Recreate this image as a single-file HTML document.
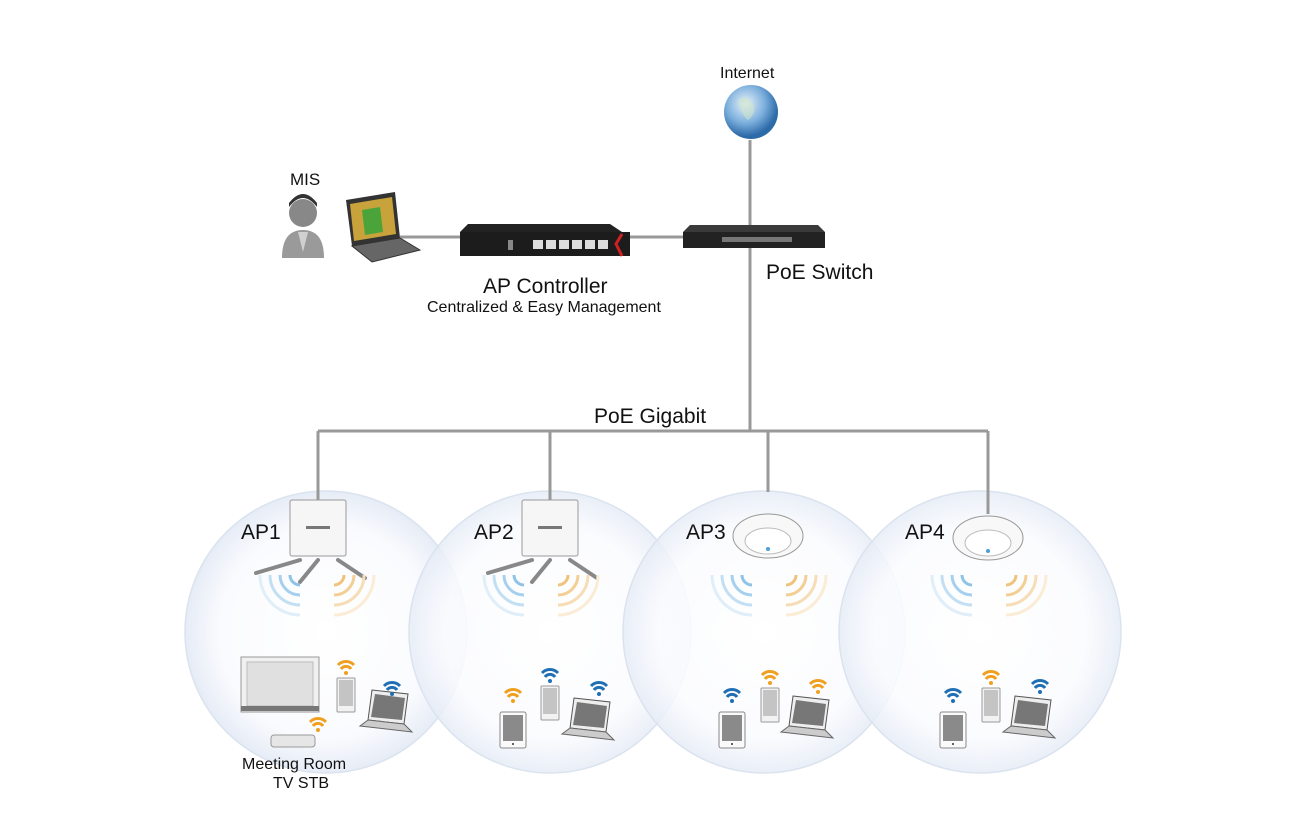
<!DOCTYPE html>
<html><head><meta charset="utf-8"><style>
body{margin:0;background:#fff;width:1306px;height:822px;overflow:hidden}
svg text{font-family:"Liberation Sans",sans-serif;fill:#111}
</style></head><body>
<svg width="1306" height="822" viewBox="0 0 1306 822" xmlns="http://www.w3.org/2000/svg">
<defs>
<radialGradient id="cg" cx="50%" cy="50%" r="50%">
<stop offset="0" stop-color="#ffffff"/><stop offset="0.75" stop-color="#fafbfe"/><stop offset="1" stop-color="#e6ecf6"/>
</radialGradient>
<radialGradient id="gl" cx="40%" cy="35%" r="60%">
<stop offset="0" stop-color="#e8f2fb"/><stop offset="0.6" stop-color="#7aaedc"/><stop offset="1" stop-color="#2d6aa8"/>
</radialGradient>
<g id="waves">
<g fill="none" stroke-width="3">
<path d="M-10 0 A10 10 0 0 0 0 10" stroke="#8fc3e8"/>
<path d="M-20 0 A20 20 0 0 0 0 20" stroke="#a6d0ee"/>
<path d="M-30 0 A30 30 0 0 0 0 30" stroke="#c3dff3"/>
<path d="M-40 0 A40 40 0 0 0 0 40" stroke="#e0eef9"/>
<path d="M44 0 A10 10 0 0 1 34 10" stroke="#f1c27a"/>
<path d="M54 0 A20 20 0 0 1 34 20" stroke="#f4cf95"/>
<path d="M64 0 A30 30 0 0 1 34 30" stroke="#f7ddb5"/>
<path d="M74 0 A40 40 0 0 1 34 40" stroke="#fbecd6"/>
</g></g>
<g id="wfO"><path d="M-8 0 A11 11 0 0 1 8 0" stroke="#f0a020" stroke-width="3" fill="none"/><path d="M-5 4 A6 6 0 0 1 5 4" stroke="#f0a020" stroke-width="3" fill="none"/><circle cx="0" cy="8" r="2" fill="#f0a020"/></g>
<g id="wfB"><path d="M-8 0 A11 11 0 0 1 8 0" stroke="#1f6fb5" stroke-width="3" fill="none"/><path d="M-5 4 A6 6 0 0 1 5 4" stroke="#1f6fb5" stroke-width="3" fill="none"/><circle cx="0" cy="8" r="2" fill="#1f6fb5"/></g>
<g id="tab"><rect x="0" y="0" width="26" height="36" rx="2" fill="#fafafa" stroke="#888"/><rect x="3" y="3" width="20" height="26" fill="#8a8a8a"/><circle cx="13" cy="32" r="1" fill="#333"/></g>
<g id="phone"><rect x="0" y="0" width="18" height="34" rx="1" fill="#f2f2f2" stroke="#999"/><rect x="2" y="2" width="14" height="26" fill="#c4c4c4"/></g>
<g id="lap"><path d="M12 0 L48 4 L44 34 L8 30 Z" fill="#eee" stroke="#555"/><path d="M15 4 L45 8 L42 30 L11 27 Z" fill="#777"/><path d="M0 36 L8 30 L44 34 L52 42 Z" fill="#ccc" stroke="#666"/></g>
<g id="ceil"><ellipse cx="0" cy="0" rx="35" ry="22" fill="#f8f8f8" stroke="#999"/><ellipse cx="0" cy="5" rx="23" ry="13" fill="#fff" stroke="#bbb"/><circle cx="0" cy="13" r="2" fill="#4aa0d8"/></g>
<g id="wall"><rect x="0" y="0" width="56" height="56" rx="2" fill="#f6f6f6" stroke="#999"/><rect x="16" y="26" width="24" height="3" fill="#777"/>
<g stroke="#888" stroke-width="4" fill="#eee" stroke-linecap="round"><path d="M10 60 L-34 73"/><path d="M28 60 L10 82"/><path d="M48 60 L75 78"/></g></g>
</defs>

<g stroke="#dbe3ef" stroke-width="1.5">
<circle cx="326" cy="632" r="141" fill="url(#cg)"/>
<circle cx="550" cy="632" r="141" fill="url(#cg)" fill-opacity="0.85"/>
<circle cx="764" cy="632" r="141" fill="url(#cg)" fill-opacity="0.85"/>
<circle cx="980" cy="632" r="141" fill="url(#cg)" fill-opacity="0.85"/>
</g>

<g stroke="#999" stroke-width="3" fill="none">
<path d="M750 140 V431"/><path d="M318 431 H988"/>
<path d="M318 431 V500"/><path d="M550 431 V500"/><path d="M768 431 V492"/><path d="M988 431 V514"/>
<path d="M400 237 H460"/><path d="M610 237 H690"/>
</g>

<text x="720" y="78" font-size="16">Internet</text>
<circle cx="751" cy="112" r="27" fill="url(#gl)"/>
<path d="M738 100 q8 -6 14 2 q6 10 -4 18 q-6 -4 -10 -20z" fill="#cfe4c8" opacity="0.6"/>

<text x="290" y="185" font-size="17">MIS</text>
<circle cx="303" cy="213" r="14" fill="#888"/>
<path d="M289 207 q14 -18 28 0 v-4 q-14 -18 -28 0z" fill="#333"/>
<path d="M282 258 q0 -28 21 -28 q21 0 21 28z" fill="#9a9a9a"/>
<path d="M298 232 h10 l-5 20z" fill="#d0d0d0"/>

<path d="M346 200 L395 192 L400 238 L352 246Z" fill="#333"/>
<path d="M350 204 L392 197 L396 234 L354 241Z" fill="#c8a23a"/>
<path d="M362 210 L380 207 L383 232 L365 235Z" fill="#4ba43a"/>
<path d="M352 246 L400 238 L420 250 L372 262Z" fill="#666" stroke="#333"/>

<path d="M468 224 L610 224 L622 232 L460 232Z" fill="#222"/>
<rect x="460" y="232" width="170" height="24" fill="#1c1c1c"/>
<path d="M622 234 l-6 10 l6 12" stroke="#d02020" stroke-width="3" fill="none"/>
<g fill="#ddd"><rect x="533" y="240" width="10" height="9"/><rect x="546" y="240" width="10" height="9"/><rect x="559" y="240" width="10" height="9"/><rect x="572" y="240" width="10" height="9"/><rect x="585" y="240" width="10" height="9"/><rect x="598" y="240" width="10" height="9"/></g>
<rect x="508" y="240" width="5" height="10" fill="#888"/>
<text x="483" y="293" font-size="21">AP Controller</text>
<text x="427" y="312" font-size="16" fill="#333">Centralized &amp; Easy Management</text>

<path d="M690 225 L818 225 L825 232 L683 232Z" fill="#3a3a3a"/>
<rect x="683" y="232" width="142" height="16" fill="#222"/>
<rect x="722" y="237" width="70" height="5" fill="#777"/>
<text x="766" y="279" font-size="21">PoE Switch</text>
<text x="594" y="423" font-size="21">PoE Gigabit</text>

<text x="241" y="539" font-size="21">AP1</text>
<text x="474" y="539" font-size="21">AP2</text>
<text x="686" y="539" font-size="21">AP3</text>
<text x="905" y="539" font-size="21">AP4</text>

<use href="#wall" x="290" y="500"/>
<use href="#wall" x="522" y="500"/>
<use href="#ceil" x="768" y="536"/>
<use href="#ceil" x="988" y="538"/>
<use href="#waves" x="300" y="575"/>
<use href="#waves" x="524" y="575"/>
<use href="#waves" x="752" y="575"/>
<use href="#waves" x="972" y="575"/>

<rect x="241" y="657" width="78" height="55" fill="#f0f0f0" stroke="#999"/>
<rect x="247" y="662" width="66" height="44" fill="#e0e0e0" stroke="#bbb"/>
<rect x="241" y="706" width="78" height="5" fill="#777"/>
<use href="#phone" x="337" y="678"/>
<use href="#wfO" x="346" y="665"/>
<use href="#lap" x="360" y="690"/>
<use href="#wfB" x="392" y="686"/>
<rect x="271" y="735" width="44" height="12" rx="3" fill="#e6e6e6" stroke="#999"/>
<use href="#wfO" x="318" y="722"/>
<text x="242" y="769" font-size="16" fill="#333">Meeting Room</text>
<text x="273" y="788" font-size="16" fill="#333">TV STB</text>

<use href="#tab" x="500" y="712"/><use href="#wfO" x="513" y="693"/>
<use href="#phone" x="541" y="686"/><use href="#wfB" x="550" y="673"/>
<use href="#lap" x="562" y="698"/><use href="#wfB" x="599" y="686"/>
<use href="#tab" x="719" y="712"/><use href="#wfB" x="732" y="693"/>
<use href="#phone" x="761" y="688"/><use href="#wfO" x="770" y="675"/>
<use href="#lap" x="781" y="696"/><use href="#wfO" x="818" y="684"/>
<use href="#tab" x="940" y="712"/><use href="#wfB" x="953" y="693"/>
<use href="#phone" x="982" y="688"/><use href="#wfO" x="991" y="675"/>
<use href="#lap" x="1003" y="696"/><use href="#wfB" x="1040" y="684"/>
</svg>
</body></html>
